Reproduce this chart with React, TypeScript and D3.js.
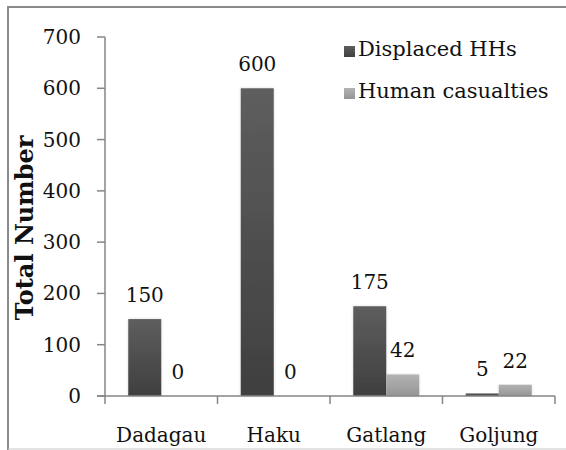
import React from "react";
import * as d3 from "d3";

const width = 566;
const height = 450;
const margin = { top: 37, right: 11, bottom: 54, left: 105 };

const villages = ["Dadagau", "Haku", "Gatlang", "Goljung"];
const seriesNames = ["Displaced HHs", "Human casualties"];
const displacedHHs = [150, 600, 175, 5];
const humanCasualties = [0, 0, 42, 22];
const yTicks = [0, 100, 200, 300, 400, 500, 600, 700];

const font = "DejaVu Serif";
const colors = [
  ["#5e5e5e", "#3f3f3f"],
  ["#b3b3b3", "#959595"],
];

export default function App() {
  const x = d3
    .scaleBand<string>()
    .domain(villages)
    .range([margin.left, width - margin.right])
    .padding(0);
  const x1 = d3
    .scaleBand<string>()
    .domain(seriesNames)
    .range([0, x.bandwidth()])
    .paddingInner(0)
    .paddingOuter(0.705);
  const y = d3
    .scaleLinear()
    .domain([0, 700])
    .range([height - margin.bottom, margin.top]);

  const values = [displacedHHs, humanCasualties];
  const base = y(0);

  return (
    <svg
      width={width}
      height={height}
      style={{ position: "absolute", left: 0, top: 0, background: "#fff" }}
      fontFamily={font}
    >
      <defs>
        {colors.map((c, i) => (
          <linearGradient key={i} id={`grad${i}`} x1="0" y1="0" x2="0" y2="1">
            <stop offset="0%" stopColor={c[0]} />
            <stop offset="100%" stopColor={c[1]} />
          </linearGradient>
        ))}
        <filter id="shadow" x="-20%" y="-5%" width="140%" height="110%">
          <feGaussianBlur in="SourceAlpha" stdDeviation="1.5" />
          <feComponentTransfer>
            <feFuncA type="linear" slope="0.15" />
          </feComponentTransfer>
          <feMerge>
            <feMergeNode />
            <feMergeNode in="SourceGraphic" />
          </feMerge>
        </filter>
      </defs>

      {/* chart frame */}
      <line x1={8} x2={566} y1={7} y2={7} stroke="#8a8a8a" strokeWidth={2} />
      <line x1={8} x2={8} y1={6} y2={450} stroke="#8a8a8a" strokeWidth={2} />
      <line x1={8} x2={566} y1={449} y2={449} stroke="#c8c8c8" strokeWidth={1} />

      {/* bars */}
      {villages.map((v, i) => (
        <g key={v} transform={`translate(${x(v)},0)`}>
          {seriesNames.map((s, j) => {
            const val = values[j][i];
            const top = y(val);
            return (
              <g key={s}>
                {val > 0 && (
                  <rect
                    x={x1(s)}
                    y={top}
                    width={x1.bandwidth()}
                    height={base - top}
                    fill={`url(#grad${j})`}
                    filter="url(#shadow)"
                  />
                )}
                <text
                  x={(x1(s) as number) + x1.bandwidth() / 2}
                  y={top - 17}
                  textAnchor="middle"
                  fontSize={20}
                  fill="#111"
                >
                  {val}
                </text>
              </g>
            );
          })}
        </g>
      ))}

      {/* y axis */}
      <line x1={margin.left} x2={margin.left} y1={y(700)} y2={base} stroke="#868686" strokeWidth={1.5} />
      {yTicks.map((t) => (
        <g key={t}>
          <line x1={margin.left - 8} x2={margin.left} y1={y(t)} y2={y(t)} stroke="#868686" strokeWidth={1.5} />
          <text x={margin.left - 24} y={y(t)} dy="0.35em" textAnchor="end" fontSize={20} fill="#111">
            {t}
          </text>
        </g>
      ))}

      {/* x axis */}
      <line x1={margin.left - 8} x2={width - margin.right} y1={base} y2={base} stroke="#868686" strokeWidth={1.5} />
      {[...villages.map((v) => x(v) as number), width - margin.right].map((px, i) => (
        <line key={i} x1={px} x2={px} y1={base} y2={base + 8} stroke="#868686" strokeWidth={1.5} />
      ))}
      {villages.map((v) => (
        <text
          key={v}
          x={(x(v) as number) + x.bandwidth() / 2}
          y={442}
          textAnchor="middle"
          fontSize={20}
          fill="#111"
        >
          {v}
        </text>
      ))}

      {/* y title */}
      <text
        transform={`translate(33, 228) rotate(-90)`}
        textAnchor="middle"
        fontSize={24}
        fontWeight="bold"
        fill="#111"
      >
        Total Number
      </text>

      {/* legend */}
      {seriesNames.map((s, j) => (
        <g key={s} transform={`translate(344, ${46 + j * 42})`}>
          <rect width={11} height={11} fill={`url(#grad${j})`} />
          <text x={14} y={10} fontSize={21} fill="#111">
            {s}
          </text>
        </g>
      ))}
    </svg>
  );
}
